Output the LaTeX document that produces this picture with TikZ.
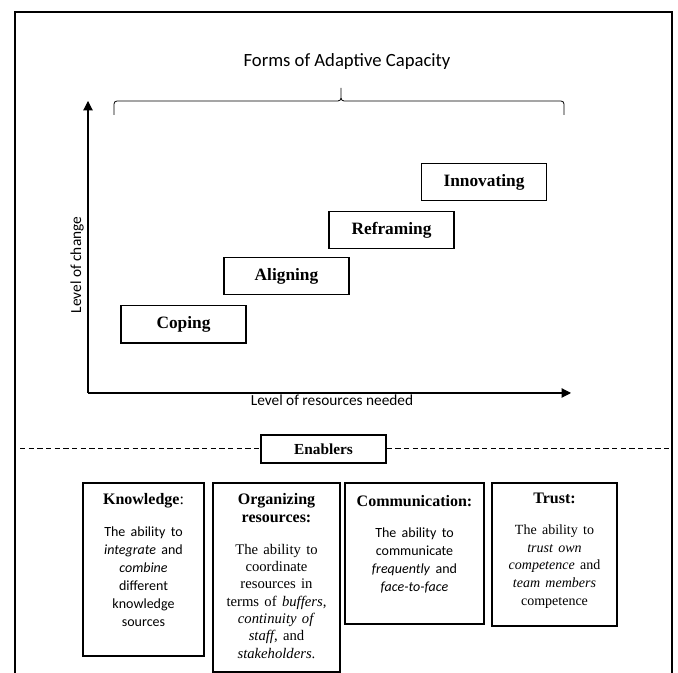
\documentclass[tikz,border=0pt]{standalone}
\usepackage{fontspec}
\setmainfont{Liberation Serif}
\newfontfamily\calibri{Carlito}
\usetikzlibrary{arrows.meta, positioning}

\begin{document}
\begin{tikzpicture}[x=0.75pt, y=0.75pt, >={Triangle[length=7pt, width=7pt]},
    level/.style={draw, line width=1pt, minimum width=93.75pt, minimum height=28pt,
      inner sep=0pt, font=\fontsize{13}{15}\selectfont\bfseries},
    enabbox/.style={draw, line width=1.25pt, inner sep=0pt},
    enabtext/.style={align=center, inner sep=0pt, font=\fontsize{12}{14}\selectfont},
    axislabel/.style={font=\calibri\fontsize{11.5}{13}\selectfont}]
  \useasboundingbox (0,0) rectangle (678,673);
  % ── Outer frame (open at the bottom) ─────────────────────────
  \coordinate (tl) at (15,661);
  \coordinate (tr) at (672,661);
  \draw[line width=1pt] (15,0) -- (tl) -- (tr) -- (672,0);
  % ── Title and brace ──────────────────────────────────────────
  \node[font=\calibri\fontsize{14}{16}\selectfont] (title) at (347,611) {Forms of Adaptive Capacity};
  \draw[line width=0.6pt] (114,558) -- (114,569) to[out=90,in=180] (117,572) -- (338,572)
    to[out=0,in=-90] (341,575) -- (341,585) -- (341,575) to[out=-90,in=180] (344,572)
    -- (561,572) to[out=0,in=90] (564,569) -- (564,558);
  % ── Axes ─────────────────────────────────────────────────────
  \coordinate (origin) at (88,280);
  \coordinate (ytop) at (88,572);
  \coordinate (xend) at (571,280);
  \draw[->, line width=0.8pt] (origin) -- (ytop);
  \draw[->, line width=0.8pt] (origin) -- (xend);
  \node[axislabel, rotate=90] (ylab) at (77,408) {Level of change};
  \node[axislabel] (xlab) at (332,273) {Level of resources needed};
  % ── Forms of adaptive capacity ───────────────────────────────
  \foreach \x/\y/\nm/\lbl in {183.5/348.5/coping/Coping, 286.5/397/aligning/Aligning,
      391.5/443/reframing/Reframing, 484/491/innovating/Innovating} {
    \node[level] (\nm) at (\x,\y) {\lbl};
  }
  % ── Enablers divider ─────────────────────────────────────────
  \node[draw, line width=1.2pt, minimum width=93.75pt, minimum height=21pt, inner sep=0pt,
    font=\fontsize{11.5}{13}\selectfont\bfseries] (enablers) at (323.5,224) {Enablers};
  \coordinate (dl) at (20,224);
  \coordinate (dr) at (672,224);
  \draw[line width=0.75pt, dash pattern=on 4pt off 2.5pt] (dl) -- (enablers.west);
  \draw[line width=0.75pt, dash pattern=on 4pt off 2.5pt] (enablers.east) -- (dr);
  % ── Enabler boxes ────────────────────────────────────────────
  \node[enabbox, anchor=north, minimum width=90.75pt, minimum height=129.75pt] (know) at (143.5,191) {};
  \node[enabbox, anchor=north, minimum width=95.25pt, minimum height=141.75pt] (organ) at (276.5,191) {};
  \node[enabbox, anchor=north, minimum width=104.25pt, minimum height=105.75pt] (comm) at (414.5,191) {};
  \node[enabbox, anchor=north, minimum width=93.75pt, minimum height=107.25pt] (trust) at (554.5,191) {};
  \node[enabtext, text width=88pt, below=8pt of know.north] (knowtxt) {\centering
    {\bfseries Knowledge}:\par\vspace{10.5pt}
    {\calibri\fontsize{10.5}{13.5}\selectfont\centering The ability to\\ \textit{integrate} and\\
      \textit{combine}\\ different\\ knowledge\\ sources\par}};
  \node[enabtext, text width=92pt, below=8pt of organ.north] (organtxt) {\centering
    {\bfseries Organizing\\ resources:\par}\vspace{10.5pt}
    {\fontsize{11}{13}\selectfont\centering The ability to\\ coordinate\\ resources in\\
      terms of \textit{buffers},\\ \textit{continuity of}\\ \textit{staff}, and\\
      \textit{stakeholders}.\par}};
  \node[enabtext, text width=102pt, below=9.5pt of comm.north] (commtxt) {\centering
    {\bfseries Communication:}\par\vspace{10pt}
    {\calibri\fontsize{10.5}{13.5}\selectfont\centering The ability to\\ communicate\\
      \textit{frequently} and\\ \textit{face-to-face}\par}};
  \node[enabtext, text width=91pt, below=8pt of trust.north] (trusttxt) {\centering
    {\bfseries Trust:}\par\vspace{10pt}
    {\fontsize{10.5}{13.3}\selectfont\centering The ability to\\ \textit{trust own}\\
      \textit{competence} and\\ \textit{team members}\\ competence\par}};
\end{tikzpicture}
\end{document}
